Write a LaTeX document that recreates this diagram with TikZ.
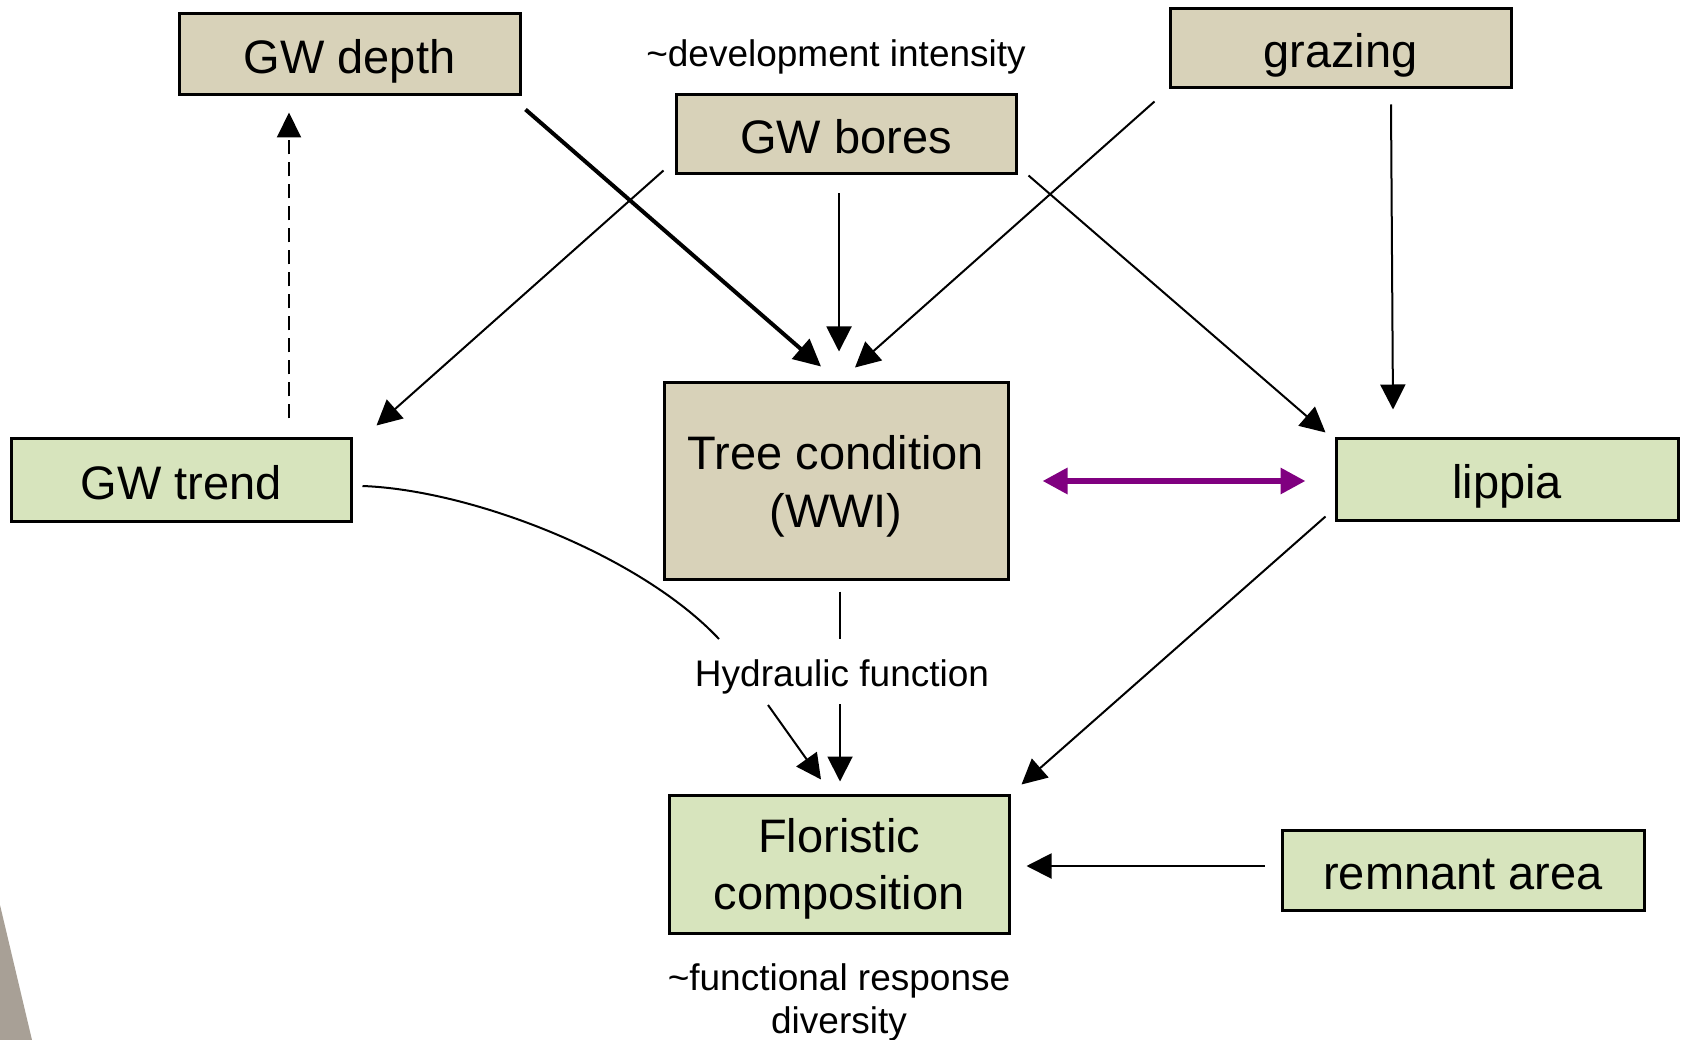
\documentclass[tikz,border=0pt]{standalone}
\usepackage{fontspec}
\setmainfont{Liberation Sans}
\usetikzlibrary{arrows.meta,calc}
\definecolor{tanfill}{RGB}{216,210,185}
\definecolor{greenfill}{RGB}{215,228,189}
\definecolor{purp}{RGB}{128,0,128}
\definecolor{wedge}{RGB}{168,160,150}
\begin{document}
\begin{tikzpicture}[x=1pt,y=-1pt,
  basebox/.style={draw=black, line width=3pt, inner sep=0pt, align=center,
    text depth=0pt, font=\fontsize{47}{58}\selectfont},
  oneline/.style={text height=38pt},
  tanbox/.style={basebox, fill=tanfill},
  greenbox/.style={basebox, fill=greenfill},
  lbl/.style={inner sep=0pt, align=center, font=\fontsize{37}{43}\selectfont},
  arr/.style={line width=2pt, -{Triangle[length=25pt,width=25pt]}},
  thickarr/.style={line width=4pt, -{Triangle[length=27pt,width=26pt]}},
  dasharr/.style={line width=2pt, dash pattern=on 14pt off 8pt, -{Triangle[length=25pt,width=24pt]}},
  purparr/.style={line width=6pt, draw=purp, {Triangle[length=25pt,width=25pt]}-{Triangle[length=25pt,width=25pt]}},
  plain/.style={line width=2pt}
]
\useasboundingbox (0,0) rectangle (1687,1040);
\fill[white] (0,0) rectangle (1687,1040);
\fill[wedge] (0,905) -- (32,1040) -- (0,1040) -- cycle;

% boxes
\node[tanbox, oneline, minimum width=341pt, minimum height=81pt] (depth) at (349.5,54.5) {GW depth};
\node[tanbox, oneline, minimum width=340pt, minimum height=79pt] (bores) at (846,134.5) {GW bores};
\node[tanbox, oneline, minimum width=341pt, minimum height=79pt] (grazing) at (1340.5,48.5) {grazing};
\node[greenbox, oneline, minimum width=340pt, minimum height=82pt] (trend) at (181,480) {GW trend};
\node[tanbox, minimum width=344pt, minimum height=196pt] (tree) at (836,481) {Tree condition\\(WWI)};
\node[greenbox, oneline, minimum width=342pt, minimum height=81pt] (lippia) at (1507,479.5) {lippia};
\node[greenbox, minimum width=340pt, minimum height=138pt, font=\fontsize{47}{57}\selectfont] (flor) at (839,864) {Floristic\\composition};
\node[greenbox, oneline, minimum width=362pt, minimum height=80pt] (remnant) at (1463,870) {remnant area};

% labels
\node[lbl] (dev) at (836,57) {\char`\~development intensity};
\node[lbl] (hyd) at (842,677) {Hydraulic function};
\node[lbl] (func) at (839,1002) {\char`\~functional response\\diversity};

% connectors
\draw[thickarr] ($(depth.south east)+(4,13)$) -- ($(tree.north)+(-15,-15)$);
\draw[arr] ($(bores.south)+(-7,18)$) -- ($(tree.north)+(3,-30)$);
\draw[arr] ($(bores.south west)+(-11,-5)$) -- ($(trend.north east)+(24,-12)$);
\draw[arr] ($(bores.south east)+(11,0)$) -- ($(lippia.north west)+(-9,-5)$);
\draw[arr] ($(grazing.south west)+(-14,12)$) -- ($(tree.north)+(19,-14)$);
\draw[arr] ($(grazing.south)+(50.5,15)$) -- ($(lippia.north)+(-114,-28)$);
\draw[dasharr] ($(trend.north)+(108,-19)$) -- ($(depth.south)+(-60.5,16)$);
\draw[purparr] ($(tree.east)+(33,0)$) -- ($(lippia.west)+(-29,1.5)$);
\draw[plain] ($(tree.south)+(4,11)$) -- ($(hyd.center)+(-2,-38)$);
\draw[arr] ($(hyd.center)+(-2,27)$) -- ($(flor.north)+(1,-12)$);
\draw[plain] ($(trend.east)+(10,6)$) .. controls +(109,4) and +(-79,-84) .. ($(hyd.center)+(-123,-38)$);
\draw[arr] ($(hyd.center)+(-74,28)$) -- ($(flor.north)+(-18,-14)$);
\draw[arr] ($(lippia.south west)+(-9,-5)$) -- ($(flor.north east)+(11,-9)$);
\draw[arr] ($(remnant.west)+(-16,-4)$) -- ($(flor.east)+(16,2)$);
\end{tikzpicture}
\end{document}
